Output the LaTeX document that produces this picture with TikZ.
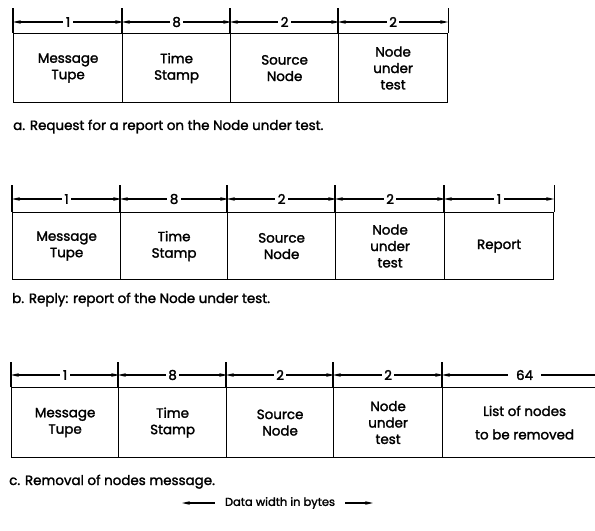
\documentclass[tikz,border=0pt]{standalone}
\usepackage{fontspec}
\setmainfont{Poppins}[FakeBold=1.8]
\usetikzlibrary{arrows.meta}
\begin{document}
\begin{tikzpicture}[x=1bp,y=-1bp,
  cell/.style={draw, line width=1.2pt, inner sep=0pt, anchor=north west, align=center,
    font=\fontsize{13.5}{16.5}\selectfont},
  tick/.style={line width=1.1pt},
  dim/.style={line width=1.1pt, {Stealth[length=8pt,width=3.6pt]}-{Stealth[length=8pt,width=3.6pt]}},
  num/.style={fill=white, inner sep=2.5pt, font=\fontsize{13.5}{14}\selectfont},
  capt/.style={anchor=base west, inner sep=0pt, font=\fontsize{13.5}{15}\selectfont},
  legend/.style={inner sep=0pt, font=\fontsize{11.5}{14}\selectfont},
  larrow/.style={line width=1.1pt, -{Stealth[length=8pt,width=3.6pt]}}]
\useasboundingbox (0,0) rectangle (595,531);
\clip (0,0) rectangle (595,531);

% ---------- a ----------
\node[cell, minimum width=109bp, minimum height=69bp] (a1) at (13,33) {Message\\Tupe};
\node[cell, minimum width=108bp, minimum height=69bp] (a2) at (122,33) {Time\\Stamp};
\node[cell, minimum width=108bp, minimum height=69bp] (a3) at (230,33) {Source\\Node};
\node[cell, minimum width=109bp, minimum height=69bp] (a4) at (338,33) {Node\\under\\test};
\foreach \c in {a1,a2,a3,a4}{\draw[tick] (\c.north west) -- ++(0,-25);}
\draw[tick] (a4.north east) -- ++(0,-25);
\draw[dim] ([yshift=11bp]a1.north west) -- node[num]{1} ([yshift=11bp]a1.north east);
\draw[dim] ([yshift=11bp]a2.north west) -- node[num]{8} ([yshift=11bp]a2.north east);
\draw[dim] ([yshift=11bp]a3.north west) -- node[num]{2} ([yshift=11bp]a3.north east);
\draw[dim] ([yshift=11bp]a4.north west) -- node[num]{2} ([yshift=11bp]a4.north east);
\node[capt] (capa) at (13,130) {a. Request for a report on the Node under test.};

% ---------- b ----------
\node[cell, minimum width=108bp, minimum height=67bp] (b1) at (12,212) {Message\\Tupe};
\node[cell, minimum width=107bp, minimum height=67bp] (b2) at (120,212) {Time\\Stamp};
\node[cell, minimum width=108bp, minimum height=67bp] (b3) at (227,212) {Source\\Node};
\node[cell, minimum width=109bp, minimum height=67bp] (b4) at (335,212) {Node\\under\\test};
\node[cell, minimum width=109bp, minimum height=67bp] (b5) at (444,212) {Report};
\foreach \c in {b1,b2,b3,b4,b5}{\draw[tick] (\c.north west) -- ++(0,-27);}
\draw[tick] (b5.north east) -- ++(0,-27);
\draw[dim] ([yshift=13bp]b1.north west) -- node[num]{1} ([yshift=13bp]b1.north east);
\draw[dim] ([yshift=13bp]b2.north west) -- node[num]{8} ([yshift=13bp]b2.north east);
\draw[dim] ([yshift=13bp]b3.north west) -- node[num]{2} ([yshift=13bp]b3.north east);
\draw[dim] ([yshift=13bp]b4.north west) -- node[num]{2} ([yshift=13bp]b4.north east);
\draw[dim] ([yshift=13bp]b5.north west) -- node[num]{1} ([yshift=13bp]b5.north east);
\node[capt] (capb) at (12,303) {b. Reply: report of the Node under test.};

% ---------- c ----------
\node[cell, minimum width=107bp, minimum height=70bp] (c1) at (11,387) {Message\\Tupe};
\node[cell, minimum width=108bp, minimum height=70bp] (c2) at (118,387) {Time\\Stamp};
\node[cell, minimum width=107bp, minimum height=70bp] (c3) at (226,387) {Source\\Node};
\node[cell, minimum width=109bp, minimum height=70bp] (c4) at (333,387) {Node\\under\\test};
\node[cell, minimum width=164bp, minimum height=70bp] (c5) at (442,387) {List of nodes\\[7pt]to be removed};
\foreach \c in {c1,c2,c3,c4,c5}{\draw[tick] (\c.north west) -- ++(0,-25);}
\draw[tick] (c5.north east) -- ++(0,-25);
\draw[dim] ([yshift=12bp]c1.north west) -- node[num]{1} ([yshift=12bp]c1.north east);
\draw[dim] ([yshift=12bp]c2.north west) -- node[num]{8} ([yshift=12bp]c2.north east);
\draw[dim] ([yshift=12bp]c3.north west) -- node[num]{2} ([yshift=12bp]c3.north east);
\draw[dim] ([yshift=12bp]c4.north west) -- node[num]{2} ([yshift=12bp]c4.north east);
\draw[dim] ([yshift=12bp]c5.north west) -- node[num, inner xsep=8pt]{64} ([yshift=12bp]c5.north east);
\node[capt] (capc) at (9,485) {c. Removal of nodes message.};

% ---------- legend ----------
\node[legend] (leg) at (280,503) {Data width in bytes};
\coordinate (legL) at (182,503);
\coordinate (legR) at (373,503);
\draw[larrow] ([xshift=-10bp]leg.west) -- (legL);
\draw[larrow] ([xshift=10bp]leg.east) -- (legR);
\end{tikzpicture}
\end{document}
